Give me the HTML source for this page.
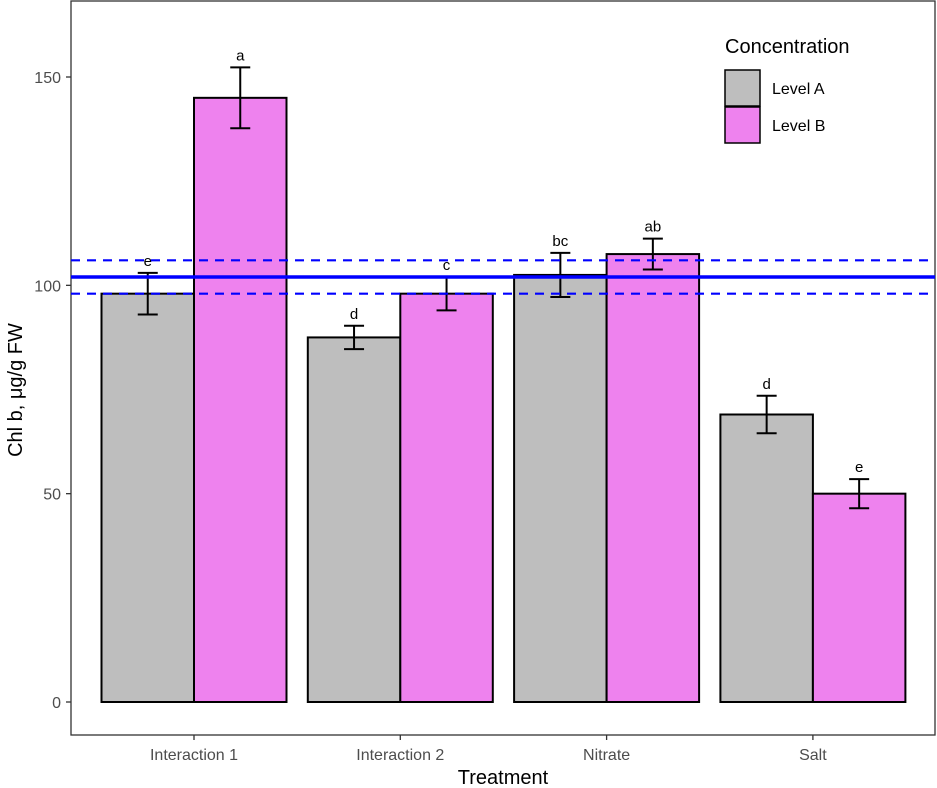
<!DOCTYPE html>
<html><head><meta charset="utf-8"><style>
body{margin:0;background:#fff}
svg{display:block;font-family:"Liberation Sans",Arial,sans-serif}
</style></head><body>
<svg id="chart" width="937" height="788">
<rect x="0" y="0" width="937" height="788" fill="#fff"/>
<g id="plot"></g>
</svg>
<script>
const categories=["Interaction 1","Interaction 2","Nitrate","Salt"];
const levelA=[98,87.5,102.5,69];
const levelB=[145,98,107.5,50];
const errA=[5,2.8,5.3,4.5];
const errB=[7.3,4,3.7,3.5];
const lettersA=["e","d","bc","d"];
const lettersB=["a","c","ab","e"];
const yTicks=[0,50,100,150];
const refMean=102, refLo=98, refHi=106;

const NS="http://www.w3.org/2000/svg";
const g=document.getElementById('plot');
const y=v=>702-v*(625/150);
const xc=i=>194+i*206.3;
const BW=92.5;
function el(t,a,p){const e=document.createElementNS(NS,t);for(const k in a)e.setAttribute(k,a[k]);(p||g).appendChild(e);return e;}

// panel border
const pb=el('rect',{x:71,y:1,width:864,height:734,fill:'none',stroke:'#333','stroke-width':1.3});



// y ticks
yTicks.forEach(v=>{
  const t=el('line',{x1:66,x2:71,y1:y(v),y2:y(v),stroke:'#333','stroke-width':1.3});
  
  
  const l=el('text',{x:61,y:y(v)+6,'text-anchor':'end','font-size':16,fill:'#4d4d4d'});
  l.textContent=v;
  
  
});

// bars
const series=[{vals:levelA,err:errA,let:lettersA,fill:'#bebebe',off:-1,name:'level-a'},{vals:levelB,err:errB,let:lettersB,fill:'#ee82ee',off:0,name:'level-b'}];
series.forEach(s=>{
  s.vals.forEach((v,i)=>{
    const x0=xc(i)+s.off*BW;
    const r=el('rect',{x:x0,y:y(v),width:BW,height:y(0)-y(v),fill:s.fill,stroke:'#000','stroke-width':2});
    
    
  });
});
series.forEach(s=>{
  s.vals.forEach((v,i)=>{
    const cx=xc(i)+s.off*BW+BW/2;
    const hi=y(v+s.err[i]),lo=y(v-s.err[i]);
    const eg=el('g',{stroke:'#000','stroke-width':2});
    
    
    el('line',{x1:cx,x2:cx,y1:hi,y2:lo},eg);
    el('line',{x1:cx-10,x2:cx+10,y1:hi,y2:hi},eg);
    el('line',{x1:cx-10,x2:cx+10,y1:lo,y2:lo},eg);
    const t=el('text',{x:cx,y:hi-7,'text-anchor':'middle','font-size':15,fill:'#000'});
    t.textContent=s.let[i];
    
    
  });
});

// reference lines
const rm=el('line',{x1:71,x2:935,y1:y(refMean),y2:y(refMean),stroke:'#0000ff','stroke-width':3.5});


[refLo,refHi].forEach(v=>{
  const d=el('line',{x1:71,x2:935,y1:y(v),y2:y(v),stroke:'#0000ff','stroke-width':2.2,'stroke-dasharray':'9 7'});
  
  
});

// x ticks
categories.forEach((c,i)=>{
  const t=el('line',{x1:xc(i),x2:xc(i),y1:735,y2:740,stroke:'#333','stroke-width':1.3});
  
  
  const l=el('text',{x:xc(i),y:760,'text-anchor':'middle','font-size':16,fill:'#4d4d4d'});
  l.textContent=c;
  
  
});

// axis titles
const xt=el('text',{x:503,y:784,'text-anchor':'middle','font-size':20,fill:'#000'});
xt.textContent='Treatment';


const yt=el('text',{x:0,y:0,'text-anchor':'middle','font-size':20,fill:'#000',transform:'translate(22,390) rotate(-90)'});
yt.textContent='Chl b, μg/g FW';



// legend
const lg=el('g',{});


const lt=el('text',{x:725,y:53,'font-size':20,fill:'#000'},lg);
lt.textContent='Concentration';


[['Level A','#bebebe'],['Level B','#ee82ee']].forEach((d,i)=>{
  const k=el('rect',{x:725,y:70+i*37,width:35,height:36,fill:d[1],stroke:'#000','stroke-width':1.5},lg);
  
  
  const t=el('text',{x:772,y:94+i*37,'font-size':16,fill:'#000'},lg);
  t.textContent=d[0];
  
  
});
</script>
</body></html>
